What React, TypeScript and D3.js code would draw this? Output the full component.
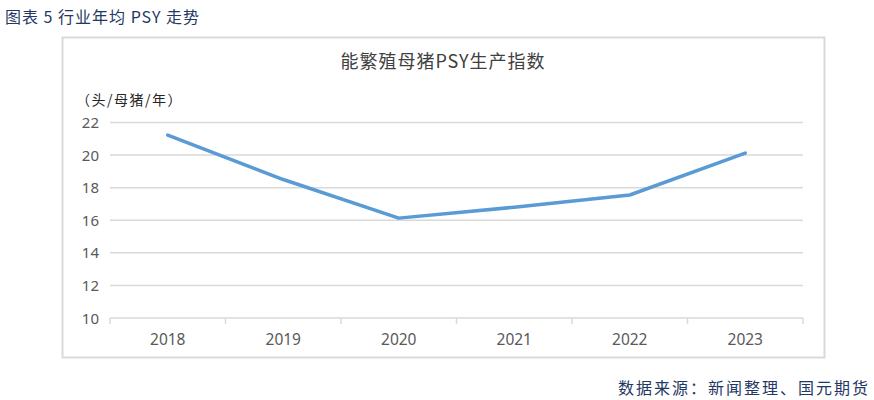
import React from "react";
import * as d3 from "d3";

const categories = ["2018", "2019", "2020", "2021", "2022", "2023"];
const psyValues = [21.23, 18.5, 16.13, 16.8, 17.55, 20.12];
const yTicks = [10, 12, 14, 16, 18, 20, 22];

const W = 874, H = 400;
const plot = { left: 110, right: 803, top: 122.5, bottom: 318 };

export default function App() {
  const x = d3.scaleBand<string>().domain(categories).range([plot.left, plot.right]);
  const y = d3.scaleLinear().domain([10, 22]).range([plot.bottom, plot.top]);
  const line = d3
    .line<number>()
    .x((_, i) => (x(categories[i]) as number) + x.bandwidth() / 2)
    .y((d) => y(d));
  const boundaries = categories.map((c) => x(c) as number).concat([plot.right]);
  const cjk = "'Noto Sans CJK SC', 'Noto Sans', sans-serif";
  return (
    <svg width={W} height={H} style={{ position: "absolute", left: 0, top: 0, background: "#fff" }}>
      <text x={5} y={23} fontFamily={cjk} fontSize={16} fill="#1f3864" letterSpacing={1}>图表 5 行业年均 PSY 走势</text>
      <rect x={62.5} y={37.5} width={762} height={320} fill="#fff" stroke="#d9d9d9" strokeWidth={2} />
      <text x={443} y={68} textAnchor="middle" fontFamily={cjk} fontSize={18} fill="#404040" letterSpacing={1}>能繁殖母猪PSY生产指数</text>
      <text x={76} y={105} fontFamily={cjk} fontSize={14} fill="#262626" letterSpacing={1.5}>（头/母猪/年）</text>
      {yTicks.map((t) => (
        <g key={t}>
          {t !== 10 && (
            <line x1={plot.left} x2={plot.right} y1={y(t)} y2={y(t)} stroke="#d9d9d9" strokeWidth={1.5} />
          )}
          <text x={99} y={y(t) + 5.5} textAnchor="end" fontFamily="'Noto Sans', sans-serif" fontSize={15} fill="#595959">{t}</text>
        </g>
      ))}
      <line x1={plot.left} x2={plot.right} y1={plot.bottom} y2={plot.bottom} stroke="#d9d9d9" strokeWidth={1.5} />
      {boundaries.map((b, i) => (
        <line key={i} x1={b} x2={b} y1={plot.bottom} y2={plot.bottom + 6} stroke="#d9d9d9" strokeWidth={1.5} />
      ))}
      {categories.map((c) => (
        <text key={c} x={(x(c) as number) + x.bandwidth() / 2} y={345} textAnchor="middle" fontFamily="'Noto Sans', sans-serif" fontSize={15.5} fill="#595959">{c}</text>
      ))}
      <path d={line(psyValues) || ""} fill="none" stroke="#5b9bd5" strokeWidth={3.5} strokeLinecap="round" strokeLinejoin="round" />
      <text x={870} y={394} textAnchor="end" fontFamily={cjk} fontSize={16} fill="#1f3864" letterSpacing={2}>数据来源：新闻整理、国元期货</text>
    </svg>
  );
}
